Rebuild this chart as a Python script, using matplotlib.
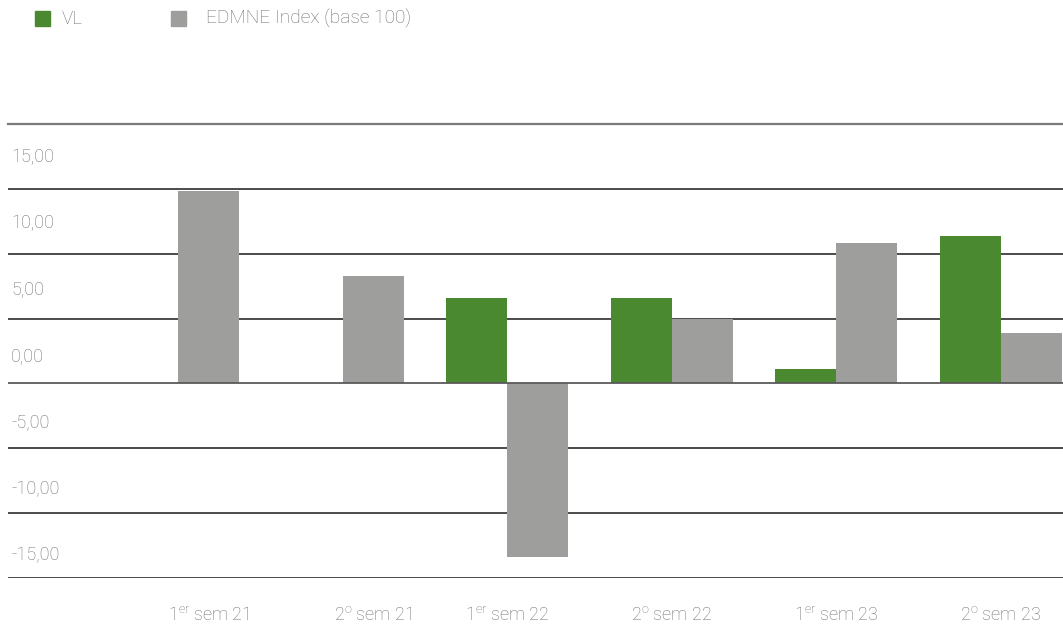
import numpy as np
import matplotlib
matplotlib.use("Agg")
import matplotlib.pyplot as plt
from matplotlib.patches import Rectangle

plt.rcParams['font.family'] = ['Roboto', 'DejaVu Sans']
plt.rcParams['font.weight'] = 'light'
plt.rcParams['mathtext.fontset'] = 'custom'
plt.rcParams['mathtext.rm'] = 'Roboto:light'
plt.rcParams['mathtext.it'] = 'Roboto:light'

# data
periods = [r"1$^{\mathrm{er}}$ sem 21", r"2$^{\mathrm{o}}$ sem 21",
           r"1$^{\mathrm{er}}$ sem 22", r"2$^{\mathrm{o}}$ sem 22",
           r"1$^{\mathrm{er}}$ sem 23", r"2$^{\mathrm{o}}$ sem 23"]
vl = [0.0, 0.0, 6.55, 6.55, 1.15, 11.4]
edmne = [14.8, 8.3, -13.35, 5.0, 10.8, 3.85]
yticks = [-15, -10, -5, 0, 5, 10, 15]
ytick_labels = ["-15,00", "-10,00", "-5,00", "0,00", "5,00", "10,00", "15,00"]

GREEN = "#4a892f"
GREY = "#9e9e9c"
TXT = "#707070"

W, H = 1063, 627
fig = plt.figure(figsize=(W / 100, H / 100), dpi=100)
ax = fig.add_axes([8 / W, (H - 578) / H, 1055 / W, 454 / H])

x = np.arange(len(periods))
w = 0.37
ax.bar(x - w / 2, vl, w, color=GREEN, zorder=3)
ax.bar(x + w / 2, edmne, w, color=GREY, zorder=3)

ax.set_xlim(-1.033, 5.377)
ax.set_ylim(-15, 20)

# horizontal rules
for v in yticks:
    if v == 0:
        continue
    ax.axhline(v, color="#1a1a1a", lw=1.1, zorder=1)
ax.axhline(0, color="#5a5a5a", lw=1.3, zorder=4)
ax.axhline(20, color="#7a7a7a", lw=1.6, zorder=4, clip_on=False)

for s in ax.spines.values():
    s.set_visible(False)
ax.set_xticks([])
ax.set_yticks([])

# y labels sit between the rules, above their own value
ytr = ax.get_yaxis_transform()
for v, lab in zip(yticks, ytick_labels):
    ax.text(3 / 1055, v + 2.1 + 0.025 * v, lab, transform=ytr, ha="left",
            va="center", fontsize=13, color=TXT)

# x labels centred on the drawn bars
xtr = ax.get_xaxis_transform()
for i, lab in enumerate(periods):
    if vl[i] == 0:
        cx = i + w / 2
    else:
        cx = i
    ax.text(cx, -37 / 454, lab, transform=xtr, ha="center", va="center",
            fontsize=13, color=TXT)

# legend
fig.patches.append(Rectangle((35 / W, 1 - 26 / H), 15 / W, 15 / H,
                             transform=fig.transFigure, color=GREEN))
fig.text(62 / W, 1 - 18.5 / H, "VL", ha="left", va="center", fontsize=13.5, color=TXT)
fig.patches.append(Rectangle((171 / W, 1 - 26 / H), 15 / W, 15 / H,
                             transform=fig.transFigure, color=GREY))
fig.text(206 / W, 1 - 18.5 / H, "EDMNE Index (base 100)", ha="left", va="center",
         fontsize=13.8, color=TXT)

fig.savefig("out.png", dpi=100)
